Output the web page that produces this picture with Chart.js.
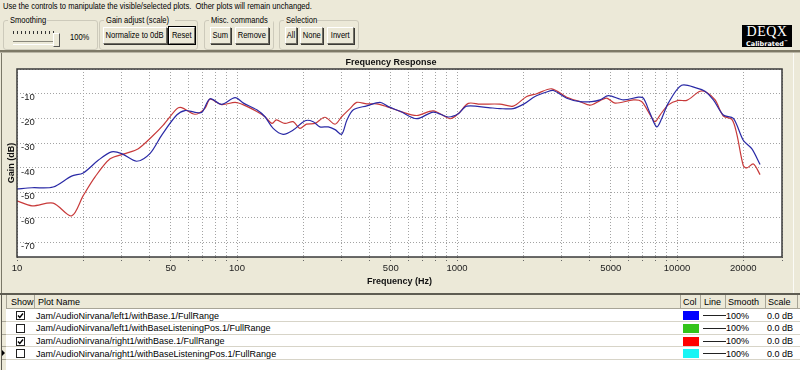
<!DOCTYPE html>
<html>
<head>
<meta charset="utf-8">
<script src="https://cdn.jsdelivr.net/npm/chart.js@4.4.0/dist/chart.umd.min.js"></script>
<style>
html, body { margin: 0; padding: 0; }
body { width: 800px; height: 370px; overflow: hidden; position: relative; background: #ece9d8;
       font-family: "Liberation Sans", Arial, sans-serif; font-size: 9px; color: #000; }
.abs { position: absolute; white-space: nowrap; }
.sq { display: inline-block; transform: scaleX(0.84); transform-origin: left center; white-space: nowrap; }
.grp { position: absolute; border: 1px solid #cdcabb; border-radius: 3px; }
.grp > .lg { position: absolute; top: -6px; left: 4px; background: #ece9d8; padding: 0 2px; line-height: 11px; white-space: nowrap; }
.lg > i { font-style: normal; display: inline-block; transform: scaleX(0.84); transform-origin: left center; margin-right: -8px; }
.btn { position: absolute; top: 27px; height: 15px; line-height: 15px; background: #ece9d8;
       display: flex; justify-content: center;
       border: 1px solid; border-color: #fff #6f6d63 #6f6d63 #fff; box-shadow: 1px 1px 0 #3b3a35; }
.btn span { display: inline-block; white-space: nowrap; transform: scaleX(0.84); transform-origin: center; }
.btn.def { outline: 1px solid #000; }
.cell { position: absolute; white-space: nowrap; line-height: 12px; }
.hline { position: absolute; height: 1px; background: #d7d4c8; }
.vline { position: absolute; width: 1px; background: #a8a597; }
.chk { position: absolute; width: 7px; height: 7px; border: 1px solid #222; background: #fff; }
</style>
</head>
<body>

<div class="abs" style="left:3px;top:1px;width:450px;line-height:11px;"><span class="sq">Use the controls to manipulate the visible/selected plots.&nbsp; Other plots will remain unchanged.</span></div>

<div class="grp" style="left:3px;top:20px;width:93px;height:28px;"><div class="lg"><i>Smoothing</i></div></div>
<div class="grp" style="left:99px;top:20px;width:97px;height:28px;"><div class="lg"><i>Gain adjust (scale)</i></div></div>
<div class="grp" style="left:204px;top:20px;width:68px;height:28px;"><div class="lg"><i>Misc. commands</i></div></div>
<div class="grp" style="left:279px;top:20px;width:78px;height:28px;"><div class="lg"><i>Selection</i></div></div>

<div id="ticks" class="abs" style="left:13px;top:31px;width:42px;height:3px;"></div>
<div class="abs" style="left:13px;top:41px;width:44px;height:2px;border-top:1px solid #8a887c;border-bottom:1px solid #fff;"></div>
<div class="abs" style="left:53px;top:33px;width:5px;height:12px;background:#ece9d8;border:1px solid;border-color:#fff #555 #555 #fff;"></div>
<div class="abs" style="left:70px;top:32px;"><span class="sq">100%</span></div>

<div class="btn" style="left:103px;width:62px;"><span>Normalize to 0dB</span></div>
<div class="btn def" style="left:169px;width:24px;"><span>Reset</span></div>
<div class="btn" style="left:210px;width:19px;"><span>Sum</span></div>
<div class="btn" style="left:235px;width:32px;"><span>Remove</span></div>
<div class="btn" style="left:285px;width:10px;"><span>All</span></div>
<div class="btn" style="left:300px;width:21px;"><span>None</span></div>
<div class="btn" style="left:327px;width:25px;"><span>Invert</span></div>

<div class="abs" style="left:742px;top:25px;width:50px;height:22px;background:#000;color:#fff;text-align:center;">
  <div style="font-family:'Liberation Serif',serif;font-size:14px;line-height:13px;letter-spacing:0.5px;">DEQX</div>
  <div style="font-family:'DejaVu Sans',sans-serif;font-weight:bold;font-size:6.5px;line-height:8px;">Calibrated<sup style="font-size:4px;">™</sup></div>
</div>

<div class="abs" style="left:0;top:50px;width:800px;height:2px;background:#7d7966;"></div>
<div class="abs" style="left:0;top:52px;width:800px;height:1px;background:#b9b5a4;"></div>
<div class="abs" style="left:1px;top:53px;width:1px;height:242px;background:#7a7868;"></div>
<div class="abs" style="left:793px;top:53px;width:1px;height:242px;background:#fbfbf7;"></div>

<canvas id="chart" width="795" height="238" style="position:absolute;left:0;top:54px;"></canvas>

<div class="abs" style="left:0;top:293px;width:800px;height:2px;background:#5e5c52;"></div>
<div id="table" class="abs" style="left:2px;top:295px;width:798px;height:75px;background:#fff;"></div>
<div class="abs" style="left:1px;top:295px;width:1px;height:75px;background:#5e5c52;"></div>

<script>
// frequency axis: gridlines at every 1..9 multiple up to 30 kHz, labels only at these
const freqLabels = [10, 50, 100, 500, 1000, 5000, 10000, 20000];
const gridFreqs = [];
for (let d = 10; d <= 10000; d *= 10) {
  for (let m = 1; m <= 9; m++) {
    if (d * m <= 30000) gridFreqs.push(d * m);
  }
}

// left1/withBase.1 (blue)
const leftFreq = [10, 11.7, 14.6, 17.7, 20, 23.4, 26.9, 29.9, 35, 40.2, 45.5, 53.2, 58, 64.4, 69.2, 75.4,
  85, 98, 107, 123, 134, 146, 162, 180, 204, 222, 238, 260, 279, 299, 316, 338, 389, 447, 487, 551,
  656, 780, 912, 1013, 1107, 1387, 1567, 1801, 2036, 2262, 2557, 2740, 3153, 3624, 4095, 4466, 4879,
  5706, 6670, 7032, 7540, 8084, 8518, 9126, 10490, 12300, 13400, 14630, 16230, 18030, 20000, 21860, 23850];
const leftGain = [-48.5, -48.0, -47.7, -43.3, -42, -36.9, -33.5, -34.2, -37.3, -34.2, -26.7, -18.6, -16.8, -17.5, -17.5, -12,
  -14.3, -11.6, -13.8, -16.5, -19.3, -24, -26.4, -24.7, -20.9, -21.3, -23.4, -23.4, -24.5, -26.4, -20.6, -16.5, -14.9, -13.5, -15.2, -17.1,
  -20.1, -17.4, -19.4, -18.1, -15, -15.6, -16, -16, -13.9, -11.1, -9.3, -8.7, -11.8, -13.2, -13.2, -12.5, -10.8,
  -12.5, -11.4, -11.8, -17.9, -23.4, -20, -13.8, -6.6, -7.7, -9, -12.5, -18.6, -20, -28.8, -32.2, -38.6];

// right1/withBase.1 (red)
const rightFreq = [10, 11.7, 14.6, 17.7, 20, 22.6, 26.5, 31, 35.6, 41, 46.2, 53.2, 56, 64.4, 71.5, 75.4,
  85, 98, 107, 123, 134, 144, 151, 165, 180, 193, 207, 226, 251, 279, 299, 327, 350, 389, 431, 479, 551,
  656, 780, 929, 1013, 1125, 1273, 1567, 1801, 2073, 2303, 2694, 3153, 3624, 4027, 4466, 4790,
  5224, 6330, 6900, 7400, 7943, 8370, 9126, 10140, 11070, 12730, 13650, 14900, 16230, 17750, 18670, 20000, 20760, 22240, 23850];
const rightGain = [-53.3, -55.3, -54.2, -59.4, -51.2, -43.7, -36.3, -34.2, -32.2, -27.4, -22.7, -16.1, -15.6, -18.3, -15.9, -12.2,
  -14.4, -13.5, -14.5, -17.2, -19.3, -22, -20.6, -22, -21.3, -24, -22.3, -22, -19.5, -22.3, -19.3, -15.9, -13.5, -14.1, -14.1, -15.2, -17.1,
  -18.8, -16.9, -20.1, -18.1, -13.9, -14.2, -14.2, -15, -11.1, -10, -8, -11.4, -13.2, -14.6, -12.8, -11.8,
  -13.8, -12.5, -13.1, -17.2, -21.3, -18.6, -14.5, -12.7, -12.7, -9, -9.5, -12.5, -19, -20.4, -26.1, -39, -40, -38.4, -42.7];

// plot list
const plotNames = [
  'Jam/AudioNirvana/left1/withBase.1/FullRange',
  'Jam/AudioNirvana/left1/withBaseListeningPos.1/FullRange',
  'Jam/AudioNirvana/right1/withBase.1/FullRange',
  'Jam/AudioNirvana/right1/withBaseListeningPos.1/FullRange'
];
const plotShown = [true, false, true, false];
const plotColors = ['#0000ff', '#33c41a', '#ff0000', '#19f5f5'];
const plotSmooth = ['100%', '100%', '100%', '100%'];
const plotScale = ['0.0 dB', '0.0 dB', '0.0 dB', '0.0 dB'];

// slider ticks
const tk = document.getElementById('ticks');
for (let i = 0; i < 11; i++) {
  const t = document.createElement('div');
  t.className = 'abs';
  t.style.cssText = 'left:' + (i * 4) + 'px;top:0;width:1px;height:3px;background:#333;';
  tk.appendChild(t);
}

// table
const tb = document.getElementById('table');
function add(html, css, cls) {
  const d = document.createElement('div');
  d.className = cls || 'cell';
  d.style.cssText = css;
  d.innerHTML = html;
  tb.appendChild(d);
  return d;
}
add('', 'left:0;top:0;width:798px;height:13px;background:#ece9d8;border-bottom:1px solid #a8a597;', 'abs');
add('', 'left:0;top:0;width:4px;height:75px;background:#ece9d8;', 'abs');
add('Show', 'left:9px;top:1px;');
add('Plot Name', 'left:36px;top:1px;');
add('Col', 'left:681px;top:1px;');
add('Line', 'left:702px;top:1px;');
add('Smooth', 'left:726px;top:1px;');
add('Scale', 'left:766px;top:1px;');
[4, 32, 678, 698, 723, 763, 795].forEach(x => add('', 'left:' + x + 'px;top:0;height:13px;', 'vline'));
const rowH = 12.8;
plotNames.forEach((name, i) => {
  const top = 14 + i * rowH;
  add('', 'left:0;top:' + (top + rowH - 1) + 'px;width:798px;', 'hline');
  add('', 'left:0;top:' + (top + rowH - 1) + 'px;width:4px;background:#a8a597;', 'hline');
  const c = add('', 'left:14px;top:' + (top + 2) + 'px;', 'chk');
  if (plotShown[i]) {
    c.innerHTML = '<svg width="7" height="7" style="display:block"><polyline points="1,3.5 2.8,5.5 6,1.5" fill="none" stroke="#000" stroke-width="1.4"/></svg>';
  }
  add(name, 'left:34px;top:' + (top + 0.5) + 'px;');
  add('', 'left:681px;top:' + (top + 2) + 'px;width:16px;height:9px;background:' + plotColors[i] + ';', 'abs');
  add('', 'left:701px;top:' + (top + 6) + 'px;width:23px;height:1px;background:#222;', 'abs');
  add(plotSmooth[i], 'left:724px;top:' + (top + 0.5) + 'px;');
  add(plotScale[i], 'left:765px;top:' + (top + 0.5) + 'px;');
});
add('', 'left:0;top:' + (14 + 3 * rowH + 3) + 'px;width:0;height:0;border-left:3px solid #000;border-top:3px solid transparent;border-bottom:3px solid transparent;', 'abs');

// chart
const toPts = (fx, gy) => fx.map((f, i) => ({ x: f, y: gy[i] }));
const tickFont = { family: 'Liberation Sans', size: 9.5 };
const titleFont = { family: 'Liberation Sans', size: 9, weight: 'bold', lineHeight: 1.2 };

const plotFrame = {
  id: 'plotFrame',
  beforeDraw(chart) {
    const { ctx, chartArea: a } = chart;
    ctx.save();
    ctx.fillStyle = '#ffffff';
    ctx.fillRect(a.left, a.top, a.right - a.left, a.bottom - a.top);
    ctx.restore();
  },
  afterDraw(chart) {
    const { ctx, chartArea: a } = chart;
    ctx.save();
    ctx.strokeStyle = '#3a3a3a';
    ctx.lineWidth = 1.5;
    ctx.strokeRect(a.left, a.top, a.right - a.left, a.bottom - a.top);
    ctx.restore();
  }
};

new Chart(document.getElementById('chart'), {
  type: 'line',
  data: {
    datasets: [{
      label: plotNames[0],
      data: toPts(leftFreq, leftGain),
      borderColor: '#2a2aa6',
      borderWidth: 1.2,
      pointRadius: 0,
      tension: 0.3
    }, {
      label: plotNames[2],
      data: toPts(rightFreq, rightGain),
      borderColor: '#c83a3a',
      borderWidth: 1.2,
      pointRadius: 0,
      tension: 0.3
    }]
  },
  options: {
    responsive: false,
    animation: false,
    devicePixelRatio: 1,
    layout: { padding: { left: 0, right: 13, top: 0, bottom: 0 } },
    plugins: {
      legend: { display: false },
      tooltip: { enabled: false },
      title: {
        display: true,
        text: 'Frequency Response',
        color: '#111',
        font: titleFont,
        padding: { top: 3, bottom: 1.2 }
      }
    },
    scales: {
      x: {
        type: 'logarithmic',
        min: 10,
        max: 30000,
        afterBuildTicks(s) { s.ticks = gridFreqs.map(v => ({ value: v })); },
        afterFit(s) { s.height = 35; },
        grid: { color: '#a3a3a3', drawTicks: true, tickLength: 4, tickColor: '#666', tickBorderDash: [1, 2] },
        border: { display: false, dash: [1, 2] },
        ticks: {
          autoSkip: false,
          maxRotation: 0,
          padding: 2,
          color: '#222',
          font: tickFont,
          callback: v => freqLabels.includes(v) ? String(v) : ''
        },
        title: { display: true, text: 'Frequency (Hz)', color: '#111', font: titleFont, padding: { top: 0, bottom: 5 } }
      },
      y: {
        min: -76,
        max: 0,
        afterFit(s) { s.width = 17; },
        grid: { color: '#a3a3a3', drawTicks: false },
        border: { display: false, dash: [1, 2] },
        ticks: {
          stepSize: 10,
          includeBounds: false,
          mirror: true,
          padding: 4,
          labelOffset: 4,
          color: '#222',
          font: tickFont,
          callback: v => (v < 0 && v % 10 === 0) ? String(v) : ''
        },
        title: { display: true, text: 'Gain (dB)', color: '#111', font: titleFont, padding: { top: 6, bottom: 0 } }
      }
    }
  },
  plugins: [plotFrame]
});
</script>
</body>
</html>
